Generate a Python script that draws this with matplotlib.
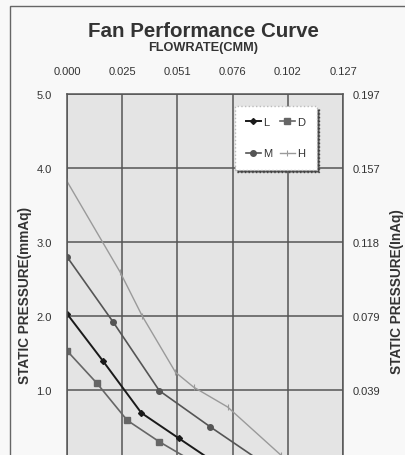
import numpy as np
import matplotlib.pyplot as plt
from matplotlib.patches import Rectangle

plt.rcParams['font.family'] = ['Liberation Sans', 'DejaVu Sans']

# flow rate (CMM) / static pressure (mmAq)
flow_L = [0.0, 0.0166, 0.0342, 0.0513, 0.0680]
pres_L = [2.03, 1.39, 0.69, 0.35, 0.02]
flow_M = [0.0, 0.0212, 0.0425, 0.0660, 0.0870]
pres_M = [2.80, 1.92, 0.99, 0.50, 0.08]
flow_D = [0.0, 0.0138, 0.0277, 0.0425, 0.0570]
pres_D = [1.53, 1.09, 0.59, 0.30, 0.05]
flow_H = [0.0, 0.0245, 0.0346, 0.0499, 0.0582, 0.0739, 0.0984]
pres_H = [3.82, 2.59, 2.00, 1.24, 1.04, 0.77, 0.12]

x_ticks = [0.0, 0.0254, 0.0508, 0.0762, 0.1016, 0.127]
x_labels = ['0.000', '0.025', '0.051', '0.076', '0.102', '0.127']
y_ticks = [1.0, 2.0, 3.0, 4.0, 5.0]
y_labels = ['1.0', '2.0', '3.0', '4.0', '5.0']
inaq_labels = ['0.039', '0.079', '0.118', '0.157', '0.197']

txt = '#333333'
fig = plt.figure(figsize=(4.06, 4.56), dpi=100, facecolor='#f8f8f8')
# frame around the sheet
fig.patches.append(Rectangle((0.025, -0.1), 1.0, 1.085, transform=fig.transFigure,
                             fill=False, edgecolor='#666666', linewidth=1.0))

ax = fig.add_axes([0.165, -0.0197, 0.68, 0.8114])
ax.set_facecolor('#e4e4e4')
ax.set_xlim(0, 0.127)
ax.set_ylim(0, 5.0)

ax.plot(flow_H, pres_H, color='#9a9a9a', lw=1.0, marker='|', ms=4, mew=0.8, label='H')
ax.plot(flow_M, pres_M, color='#555555', lw=1.2, marker='o', ms=4, label='M')
ax.plot(flow_D, pres_D, color='#666666', lw=1.2, marker='s', ms=4, label='D')
ax.plot(flow_L, pres_L, color='#1a1a1a', lw=1.4, marker='D', ms=3, label='L')

ax.set_xticks(x_ticks)
ax.set_xticklabels(x_labels)
ax.set_yticks(y_ticks)
ax.set_yticklabels(y_labels)
ax.xaxis.tick_top()
ax.tick_params(axis='x', length=0, pad=13, labelsize=8, labelcolor=txt)
ax.tick_params(axis='y', length=0, pad=11, labelsize=8, labelcolor=txt)
ax.grid(True, color='#555555', linewidth=1.1)
for s in ax.spines.values():
    s.set_color('#555555')
    s.set_linewidth(1.1)

ax2 = ax.twinx()
ax2.set_ylim(0, 5.0)
ax2.set_yticks(y_ticks)
ax2.set_yticklabels(inaq_labels)
ax2.tick_params(axis='y', length=0, pad=7, labelsize=8, labelcolor=txt)
for s in ax2.spines.values():
    s.set_visible(False)

handles, labels = ax.get_legend_handles_labels()
order = [labels.index(k) for k in ['L', 'M', 'D', 'H']]
leg = ax.legend([handles[i] for i in order], [labels[i] for i in order], ncol=2,
                loc='upper left', bbox_to_anchor=(0.587, 0.982, 0.337, 0.0), mode='expand',
                fontsize=8, labelspacing=1.9, handlelength=1.4, handletextpad=0.2,
                columnspacing=1.0, borderpad=1.0, fancybox=False,
                shadow={'color': '#444444', 'alpha': 1.0},
                framealpha=1.0, edgecolor='#bbbbbb', facecolor='white')
for t in leg.get_texts():
    t.set_color(txt)
leg.get_frame().set_linestyle(':')

fig.text(0.5, 1 - 37 / 456, 'Fan Performance Curve', ha='center', va='baseline',
         fontsize=14.8, fontweight='bold', color=txt)
fig.text(0.5, 1 - 42.5 / 456, 'FLOWRATE(CMM)', ha='center', va='top',
         fontsize=9.2, fontweight='bold', color=txt)
fig.text(0.062, 0.351, 'STATIC PRESSURE(mmAq)', rotation=90, ha='center', va='center',
         fontsize=9.8, fontweight='bold', color=txt)
fig.text(0.978, 0.36, 'STATIC PRESSURE(InAq)', rotation=90, ha='center', va='center',
         fontsize=9.8, fontweight='bold', color=txt)

fig.savefig('out.png', dpi=100, facecolor=fig.get_facecolor())
